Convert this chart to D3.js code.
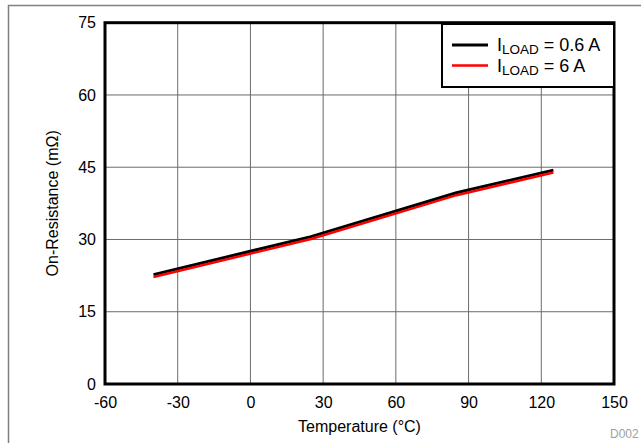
<!DOCTYPE html>
<html><head><meta charset="utf-8">
<script src="https://cdn.jsdelivr.net/npm/d3@7"></script>
<style>body{margin:0;background:#fff}svg{display:block}text{font-family:"Liberation Sans",Arial,sans-serif}</style>
</head><body>
<script>
const temps = [-40, 25, 85, 125];
const seriesLow = [22.7, 30.6, 39.7, 44.4];   // ILOAD = 0.6 A
const seriesHigh = [22.2, 30.1, 39.2, 43.9];  // ILOAD = 6 A
const xTicks = [-60, -30, 0, 30, 60, 90, 120, 150];
const yTicks = [0, 15, 30, 45, 60, 75];
const seriesNames = ["0.6 A", "6 A"];

const W = 641, H = 443;
const m = {l: 105, r: 614, t: 22.7, b: 384};
const svg = d3.select("body").append("svg").attr("width", W).attr("height", H);

svg.append("rect").attr("x", 8.5).attr("y", 5.5).attr("width", W).attr("height", H)
  .attr("fill", "none").attr("stroke", "#808080").attr("stroke-width", 1.5);

const x = d3.scaleLinear().domain([-60, 150]).range([m.l, m.r]);
const y = d3.scaleLinear().domain([0, 75]).range([m.b, m.t]);

// grid
svg.append("g").selectAll("line").data(xTicks.slice(1, -1)).join("line")
  .attr("x1", d => x(d)).attr("x2", d => x(d)).attr("y1", m.t).attr("y2", m.b)
  .attr("stroke", "#6b6b6b").attr("stroke-width", 1);
svg.append("g").selectAll("line").data(yTicks.slice(1, -1)).join("line")
  .attr("y1", d => y(d)).attr("y2", d => y(d)).attr("x1", m.l).attr("x2", m.r)
  .attr("stroke", "#6b6b6b").attr("stroke-width", 1);

// axes (tick labels)
const fmt = d => String(d);
const xAxis = d3.axisBottom(x).tickValues(xTicks).tickFormat(fmt).tickSize(0).tickPadding(13);
const gx = svg.append("g").attr("transform", `translate(0,${m.b})`).call(xAxis);
gx.select(".domain").remove();
gx.selectAll("text").attr("font-size", 16).attr("fill", "#000").attr("font-family", '"Liberation Sans",Arial,sans-serif');
const yAxis = d3.axisLeft(y).tickValues(yTicks).tickFormat(fmt).tickSize(0).tickPadding(9);
const gy = svg.append("g").attr("transform", `translate(${m.l},0)`).call(yAxis);
gy.select(".domain").remove();
gy.selectAll("text").attr("font-size", 16).attr("fill", "#000").attr("font-family", '"Liberation Sans",Arial,sans-serif');

// lines
const line = d3.line().x((d, i) => x(temps[i])).y(d => y(d));
svg.append("path").datum(seriesLow).attr("d", line).attr("fill", "none")
  .attr("stroke", "#000").attr("stroke-width", 3);
svg.append("path").datum(seriesHigh).attr("d", line).attr("fill", "none")
  .attr("stroke", "#ff0000").attr("stroke-width", 2.5);

// frame
svg.append("rect").attr("x", m.l).attr("y", m.t).attr("width", m.r - m.l).attr("height", m.b - m.t)
  .attr("fill", "none").attr("stroke", "#000").attr("stroke-width", 3);

// legend
const lg = svg.append("g");
lg.append("rect").attr("x", 442).attr("y", 24).attr("width", 172).attr("height", 63)
  .attr("fill", "#fff").attr("stroke", "#000").attr("stroke-width", 2);
const colors = ["#000", "#ff0000"];
seriesNames.forEach((n, i) => {
  const yy = 45 + i * 20.5;
  lg.append("line").attr("x1", 452).attr("x2", 488).attr("y1", yy).attr("y2", yy)
    .attr("stroke", colors[i]).attr("stroke-width", i ? 2.5 : 3);
  const t = lg.append("text").attr("x", 497).attr("y", yy + 6).attr("font-size", 18).attr("fill", "#000");
  t.append("tspan").text("I");
  t.append("tspan").attr("font-size", 13.5).attr("dy", 3).text("LOAD");
  t.append("tspan").attr("dy", -3).text(" = " + n);
});

// titles
svg.append("text").attr("x", (m.l + m.r) / 2).attr("y", 432).attr("text-anchor", "middle")
  .attr("font-size", 16).text("Temperature (°C)");
svg.append("text").attr("transform", `translate(58,${(m.t + m.b) / 2}) rotate(-90)`)
  .attr("text-anchor", "middle").attr("font-size", 16).text("On-Resistance (mΩ)");
svg.append("text").attr("x", 610).attr("y", 438).attr("font-size", 12).attr("fill", "#a0a0a0").text("D002");
</script>
</body></html>
